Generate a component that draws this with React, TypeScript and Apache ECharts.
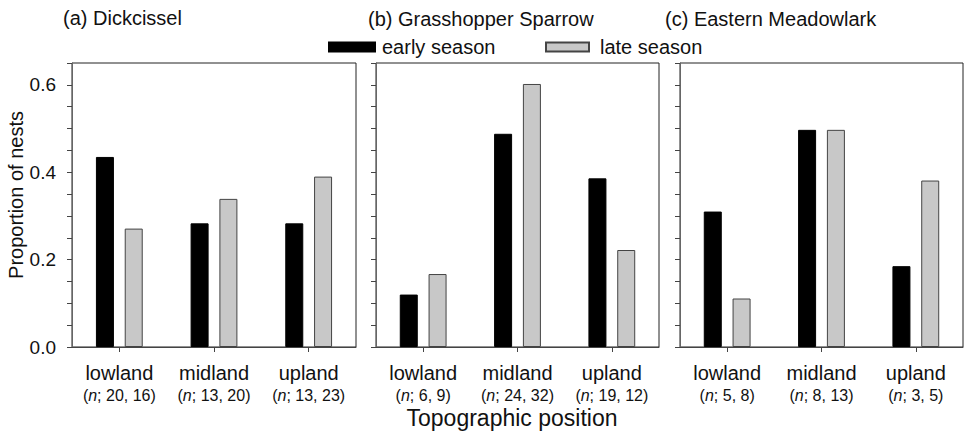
import React, { useEffect, useRef } from "react";
import * as echarts from "echarts";

const categories = ["lowland", "midland", "upland"];

const dickcisselEarly = [0.435, 0.283, 0.283];
const dickcisselLate = [0.271, 0.339, 0.39];
const dickcisselN = ["20, 16", "13, 20", "13, 23"];

const sparrowEarly = [0.12, 0.488, 0.386];
const sparrowLate = [0.167, 0.602, 0.222];
const sparrowN = ["6, 9", "24, 32", "19, 12"];

const meadowlarkEarly = [0.31, 0.497, 0.185];
const meadowlarkLate = [0.111, 0.497, 0.381];
const meadowlarkN = ["5, 8", "8, 13", "3, 5"];

const panelTitles = ["(a) Dickcissel", "(b) Grasshopper Sparrow", "(c) Eastern Meadowlark"];
const seriesNames = ["early season", "late season"];
const yAxisName = "Proportion of nests";
const xAxisName = "Topographic position";

const FONT = '"Liberation Sans", Arial, Helvetica, sans-serif';

export default function App() {
  const ref = useRef<HTMLDivElement>(null);

  useEffect(() => {
    if (!ref.current) return;
    const chart = echarts.init(ref.current, null, { renderer: "svg" });

    const panels = [
      { early: dickcisselEarly, late: dickcisselLate, n: dickcisselN, left: 72, width: 284, tx: 63, ty: 18 },
      { early: sparrowEarly, late: sparrowLate, n: sparrowN, left: 376, width: 283, tx: 368, ty: 19 },
      { early: meadowlarkEarly, late: meadowlarkLate, n: meadowlarkN, left: 680, width: 283, tx: 665, ty: 19 },
    ];

    const axisColor = "#444";

    const option: any = {
      animation: false,
      textStyle: { fontFamily: FONT },
      grid: panels.map((p) => ({
        left: p.left,
        top: 63,
        width: p.width,
        height: 284,
        show: true,
        borderColor: "#222",
        borderWidth: 1,
        backgroundColor: "transparent",
      })),
      xAxis: panels.map((p, i) => ({
        type: "category",
        gridIndex: i,
        data: categories,
        axisLine: { show: true, lineStyle: { color: axisColor, width: 1 } },
        axisTick: { show: true, alignWithLabel: true, length: 5, lineStyle: { color: axisColor } },
        splitLine: { show: false },
        axisLabel: {
          interval: 0,
          margin: 15,
          color: "#111",
          fontFamily: FONT,
          formatter: (v: string, idx: number) => `{c|${v}}\n{p|(}{i|n}{p|; ${p.n[idx]})}`,
          rich: {
            c: { fontSize: 20, lineHeight: 22, color: "#111", fontFamily: FONT },
            p: { fontSize: 16, lineHeight: 22, color: "#111", fontFamily: FONT },
            i: { fontSize: 16, lineHeight: 22, fontStyle: "italic", color: "#111", fontFamily: FONT },
          },
        },
      })),
      yAxis: panels.map((p, i) => ({
        type: "value",
        gridIndex: i,
        min: 0,
        max: 0.65,
        interval: 0.05,
        axisLine: { show: true, lineStyle: { color: "#666", width: 1 } },
        axisTick: { show: true, length: 5, lineStyle: { color: axisColor } },
        splitLine: { show: false },
        axisLabel: {
          show: i === 0,
          margin: 16,
          fontSize: 19,
          color: "#111",
          fontFamily: FONT,
          formatter: (v: number) => {
            const r = Math.round(v * 100);
            return r % 20 === 0 ? (r / 100).toFixed(1) : "";
          },
        },
      })),
      legend: [
        {
          left: 328,
          top: 37,
          padding: 0,
          icon: "rect",
          itemWidth: 46,
          itemHeight: 9,
          data: [seriesNames[0]],
          textStyle: { fontSize: 20, color: "#111", fontFamily: FONT, padding: [0, 0, 0, 2] },
        },
        {
          left: 545,
          top: 37,
          padding: 0,
          icon: "rect",
          itemWidth: 43,
          itemHeight: 9,
          data: [seriesNames[1]],
          textStyle: { fontSize: 20, color: "#111", fontFamily: FONT, padding: [0, 0, 0, 6] },
        },
      ],
      series: panels.flatMap((p, i) => [
        {
          type: "bar",
          name: seriesNames[0],
          xAxisIndex: i,
          yAxisIndex: i,
          data: p.early,
          barWidth: 18,
          barGap: "60%",
          itemStyle: { color: "#000", borderColor: "#000", borderWidth: 1 },
        },
        {
          type: "bar",
          name: seriesNames[1],
          xAxisIndex: i,
          yAxisIndex: i,
          data: p.late,
          barWidth: 18,
          barGap: "60%",
          itemStyle: { color: "#c8c8c8", borderColor: "#444", borderWidth: 1 },
        },
      ]),
      graphic: [
        ...panels.map((p, i) => ({
          type: "text",
          x: p.tx,
          y: p.ty,
          style: {
            text: panelTitles[i],
            fontSize: 20,
            fontFamily: FONT,
            fill: "#111",
            align: "left",
            verticalAlign: "middle",
          },
        })),
        {
          type: "text",
          x: 16,
          y: 195,
          rotation: Math.PI / 2,
          style: {
            text: yAxisName,
            fontSize: 20,
            fontFamily: FONT,
            fill: "#111",
            align: "center",
            verticalAlign: "middle",
          },
        },
        {
          type: "text",
          x: 512,
          y: 418,
          style: {
            text: xAxisName,
            fontSize: 23,
            fontFamily: FONT,
            fill: "#111",
            align: "center",
            verticalAlign: "middle",
          },
        },
      ],
    };

    chart.setOption(option);
    return () => chart.dispose();
  }, []);

  return (
    <div
      ref={ref}
      style={{ position: "fixed", left: 0, top: 0, width: 966, height: 433, background: "#fff" }}
    />
  );
}
